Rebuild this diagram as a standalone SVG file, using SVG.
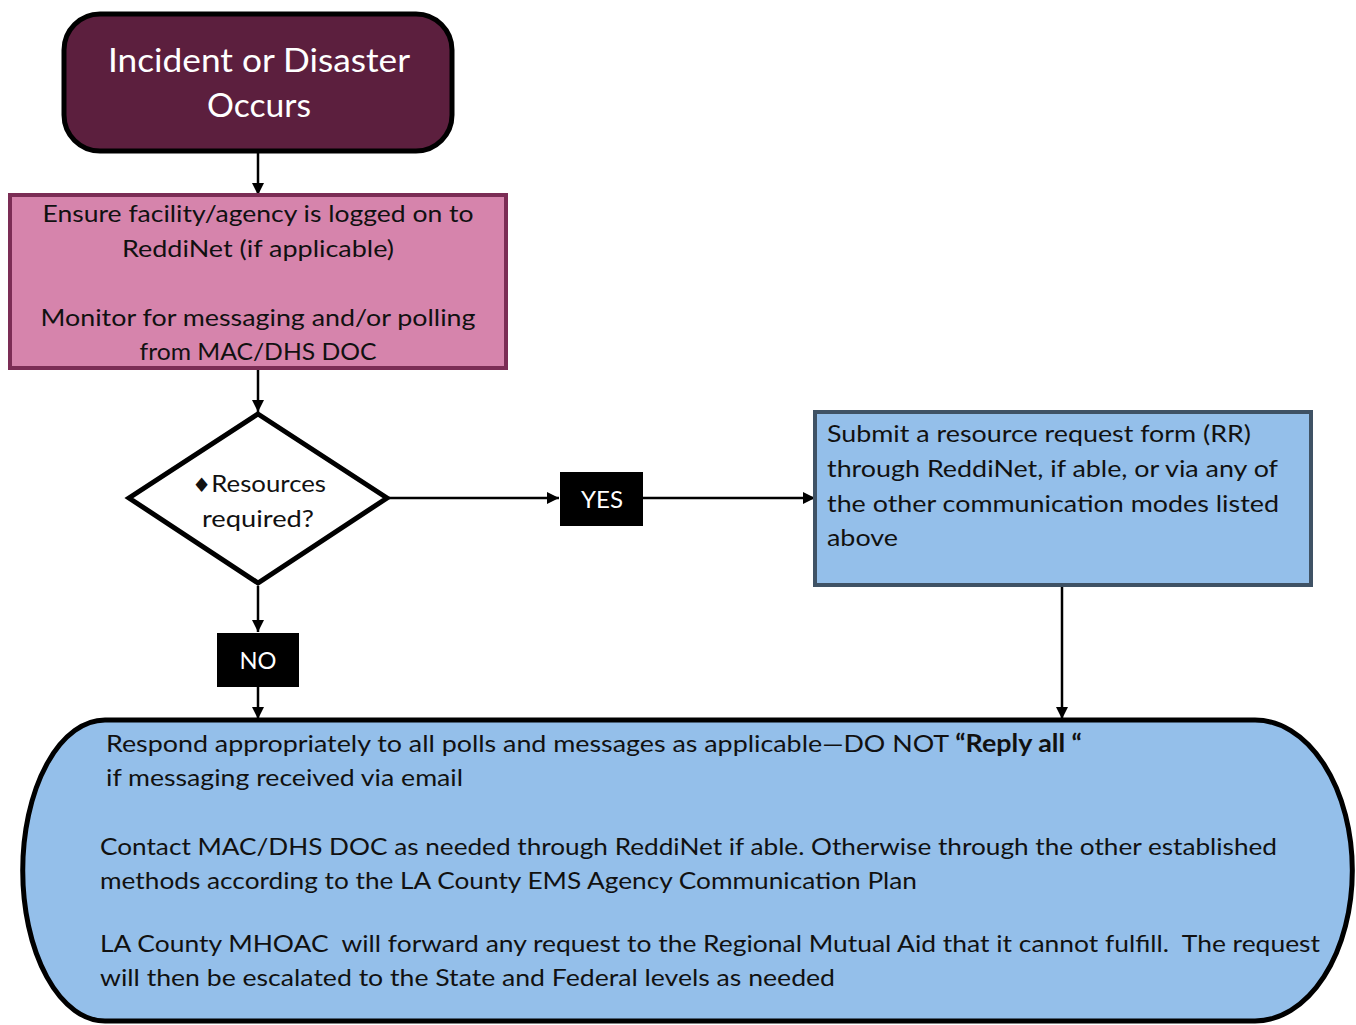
<svg xmlns="http://www.w3.org/2000/svg" width="1356" height="1025" viewBox="0 0 1356 1025">
<defs>
<style>
text{font-family:Lato,"Open Sans","Liberation Sans",sans-serif;}
.t{font-size:24px;fill:#111;}
.w{fill:#fff;}
.c{text-anchor:middle;}
.conn{stroke:#000;stroke-width:2.5;fill:none;marker-end:url(#ah);}
</style>
<marker id="ah" viewBox="0 0 12 12" refX="12" refY="6" markerWidth="12" markerHeight="12" markerUnits="userSpaceOnUse" orient="auto">
<path d="M0,0 L12,6 L0,12 z" fill="#000"/>
</marker>
</defs>
<rect width="1356" height="1025" fill="#fff"/>
<g id="connectors">
<line class="conn" x1="258" y1="152" x2="258" y2="195"/>
<line class="conn" x1="258" y1="369" x2="258" y2="412"/>
<line class="conn" x1="389" y1="498" x2="559" y2="498"/>
<line class="conn" x1="643" y1="498" x2="815" y2="498"/>
<line class="conn" x1="258" y1="586" x2="258" y2="632"/>
<line class="conn" x1="258" y1="687" x2="258" y2="719"/>
<line class="conn" x1="1062" y1="586" x2="1062" y2="719"/>
</g>
<g id="start">
<rect x="64" y="14" width="388" height="137" rx="36" fill="#5c1f3e" stroke="#000" stroke-width="5"/>
<text class="w c" x="259" y="72" font-size="32" textLength="302" lengthAdjust="spacingAndGlyphs">Incident or Disaster</text>
<text class="w c" x="259" y="117" font-size="32" textLength="104" lengthAdjust="spacingAndGlyphs">Occurs</text>
</g>
<g id="monitor">
<rect x="10" y="195" width="496" height="173" fill="#d684ac" stroke="#7b2d55" stroke-width="4"/>
<text class="t c" x="258" y="222" textLength="431" lengthAdjust="spacingAndGlyphs">Ensure facility/agency is logged on to</text>
<text class="t c" x="258" y="257" textLength="272" lengthAdjust="spacingAndGlyphs">ReddiNet (if applicable)</text>
<text class="t c" x="258" y="326" textLength="435" lengthAdjust="spacingAndGlyphs">Monitor for messaging and/or polling</text>
<text class="t c" x="258" y="360" textLength="237" lengthAdjust="spacingAndGlyphs">from MAC/DHS DOC</text>
</g>
<g id="decision">
<polygon points="258,414 387,498 258,583 129,498" fill="#fff" stroke="#000" stroke-width="5" stroke-linejoin="miter"/>
<text class="t c" x="259" y="492" textLength="134" lengthAdjust="spacingAndGlyphs"><tspan font-family="DejaVu Sans, sans-serif" font-size="20">♦</tspan>Resources</text>
<text class="t c" x="258" y="527" textLength="112" lengthAdjust="spacingAndGlyphs">required?</text>
</g>
<g id="yes">
<rect x="560" y="472" width="83" height="54" fill="#000"/>
<text class="w c" x="602" y="508" font-size="23" textLength="42" lengthAdjust="spacingAndGlyphs">YES</text>
</g>
<g id="no">
<rect x="217" y="633" width="82" height="54" fill="#000"/>
<text class="w c" x="258" y="669" font-size="23" textLength="37" lengthAdjust="spacingAndGlyphs">NO</text>
</g>
<g id="submit">
<rect x="815" y="412" width="496" height="173" fill="#94bfea" stroke="#3f5265" stroke-width="4"/>
<text class="t" x="827" y="442" textLength="424" lengthAdjust="spacingAndGlyphs">Submit a resource request form (RR)</text>
<text class="t" x="827" y="477" textLength="451" lengthAdjust="spacingAndGlyphs">through ReddiNet, if able, or via any of</text>
<text class="t" x="827" y="512" textLength="452" lengthAdjust="spacingAndGlyphs">the other communication modes listed</text>
<text class="t" x="827" y="546" textLength="71" lengthAdjust="spacingAndGlyphs">above</text>
</g>
<g id="respond">
<path d="M105,720 L1255,720 A97,150 0 0 1 1255,1021 L105,1021 A82,150 0 0 1 105,720 Z" fill="#94bfea" stroke="#000" stroke-width="5"/>
<text class="t" x="106" y="752" textLength="976" lengthAdjust="spacingAndGlyphs">Respond appropriately to all polls and messages as applicable—DO NOT <tspan font-weight="bold">“Reply all “</tspan></text>
<text class="t" x="106" y="786" textLength="357" lengthAdjust="spacingAndGlyphs">if messaging received via email</text>
<text class="t" x="100" y="855" textLength="1177" lengthAdjust="spacingAndGlyphs">Contact MAC/DHS DOC as needed through ReddiNet if able. Otherwise through the other established</text>
<text class="t" x="100" y="889" textLength="817" lengthAdjust="spacingAndGlyphs">methods according to the LA County EMS Agency Communication Plan</text>
<text class="t" x="100" y="952" textLength="1220" lengthAdjust="spacingAndGlyphs" xml:space="preserve">LA County MHOAC  will forward any request to the Regional Mutual Aid that it cannot fulfill.  The request</text>
<text class="t" x="100" y="986" textLength="735" lengthAdjust="spacingAndGlyphs">will then be escalated to the State and Federal levels as needed</text>
</g>
</svg>
